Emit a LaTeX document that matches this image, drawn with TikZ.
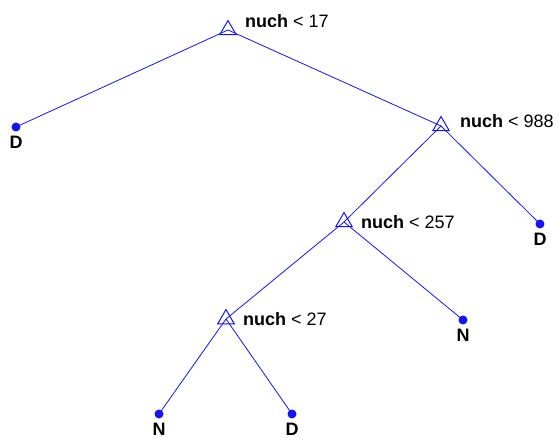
\documentclass[tikz,border=0pt]{standalone}
\usepackage{fontspec}
\setmainfont{Liberation Sans}
\usetikzlibrary{shapes.geometric, positioning}
\definecolor{treeblue}{RGB}{20,20,245}

\begin{document}
\begin{tikzpicture}[
    x=1pt, y=-1pt,
    split/.style={regular polygon, regular polygon sides=3, draw=treeblue, line width=1pt, inner sep=0pt, minimum size=19pt},
    leaf/.style={circle, fill=treeblue, inner sep=0pt, minimum size=9pt},
    lbl/.style={font=\fontsize{18}{21}\selectfont, inner sep=0pt, anchor=west},
    cls/.style={font=\fontsize{18}{21}\selectfont\bfseries, inner sep=0pt},
    edge/.style={draw=treeblue, line width=0.8pt}
]
    \useasboundingbox (0,0) rectangle (559,438);

    % split nodes
    \node (s1) [split] at (228,30) {};
    \node (s2) [split] at (441,126) {};
    \node (s3) [split] at (344,222) {};
    \node (s4) [split] at (226,319) {};

    % leaves
    \node (d1) [leaf] at (16,127) {};
    \node (d2) [leaf] at (540,224) {};
    \node (n1) [leaf] at (463,320) {};
    \node (n2) [leaf] at (159,414) {};
    \node (d3) [leaf] at (292,414) {};

    % split labels
    \node (t1) [lbl] at (245,21) {\textbf{nuch} < 17};
    \node (t2) [lbl] at (460,121) {\textbf{nuch} < 988};
    \node (t3) [lbl] at (361,222) {\textbf{nuch} < 257};
    \node (t4) [lbl] at (243,319) {\textbf{nuch} < 27};

    % class labels
    \node (c1) [cls, below=4pt of d1] {D};
    \node (c2) [cls, below=4pt of d2] {D};
    \node (c3) [cls, below=4pt of n1] {N};
    \node (c4) [cls, below=4pt of n2] {N};
    \node (c5) [cls, below=4pt of d3] {D};

    \draw[edge] (s1.center) -- (d1.center);
    \draw[edge] (s1.center) -- (s2.center);
    \draw[edge] (s2.center) -- (s3.center);
    \draw[edge] (s2.center) -- (d2.center);
    \draw[edge] (s3.center) -- (s4.center);
    \draw[edge] (s3.center) -- (n1.center);
    \draw[edge] (s4.center) -- (n2.center);
    \draw[edge] (s4.center) -- (d3.center);
\end{tikzpicture}
\end{document}
